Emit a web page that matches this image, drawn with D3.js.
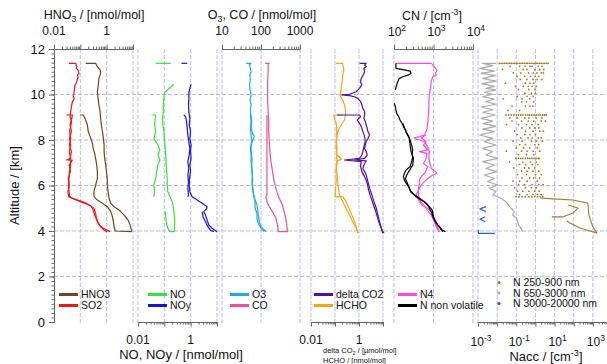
<!DOCTYPE html>
<html>
<head>
<meta charset="utf-8">
<script src="https://cdn.jsdelivr.net/npm/d3@7"></script>
<style>
  body { margin: 0; background: #fff; }
  svg { font-family: Arial, "Liberation Sans", sans-serif; }
</style>
</head>
<body>
<div id="chart"></div>
<script>
// profiles: [altitude km, value]
const so2A = [[11.37,0.037],[11.37,0.067],[11.22,0.073],[11.15,0.070],[11.08,0.082],[10.93,0.089],[10.85,0.078],[10.78,0.082],[10.56,0.073],[10.45,0.066],[10.34,0.061],[10.12,0.058],[9.90,0.054],[9.80,0.058],[9.69,0.050],[9.47,0.046],[9.25,0.043],[9.03,0.041],[8.81,0.046],[8.59,0.043],[8.37,0.039],[8.07,0.043],[7.78,0.039],[7.49,0.046],[7.19,0.041],[6.90,0.043],[6.61,0.039],[6.31,0.037],[6.02,0.036],[5.73,0.037],[5.51,0.039],[5.44,0.050],[5.29,0.10],[5.14,0.21],[5.00,0.33],[4.78,0.38],[4.56,0.41],[4.34,0.47],[4.19,0.59],[4.04,0.80],[3.97,1.06]];
const so2B = [[9.10,0.030],[9.10,0.050],[8.88,0.046],[8.66,0.041],[8.37,0.046],[8.07,0.039],[7.78,0.043],[7.49,0.038],[7.19,0.043],[7.12,0.030],[7.12,0.050],[6.90,0.038],[6.61,0.042],[6.31,0.035],[6.02,0.038],[5.73,0.034],[5.51,0.036],[5.41,0.058],[5.26,0.14],[5.11,0.25],[4.92,0.31],[4.70,0.35],[4.48,0.42],[4.26,0.54],[4.12,0.75],[3.97,1.35]];
const hno3A = [[11.37,0.16],[11.37,0.38],[11.22,0.445],[11.08,0.56],[10.93,0.59],[10.71,0.51],[10.42,0.48],[10.12,0.445],[9.83,0.47],[9.54,0.51],[9.25,0.56],[8.95,0.59],[8.66,0.63],[8.37,0.69],[8.07,0.75],[7.78,0.80],[7.49,0.80],[7.19,0.84],[6.90,0.92],[6.61,0.98],[6.31,1.06],[6.02,1.06],[5.73,1.13],[5.44,1.23],[5.22,1.43],[5.07,1.91],[4.92,2.96],[4.70,4.59],[4.48,6.5],[4.26,7.8],[4.04,8.7],[3.97,8.7]];
const hno3B = [[9.10,0.10],[9.10,0.13],[8.88,0.16],[8.66,0.185],[8.37,0.20],[8.07,0.25],[7.85,0.287],[7.63,0.31],[7.41,0.35],[7.19,0.38],[6.90,0.42],[6.61,0.445],[6.31,0.445],[6.02,0.38],[5.73,0.33],[5.51,0.33],[5.36,0.445],[5.22,0.69],[5.07,1.06],[4.85,1.43],[4.63,1.65],[4.41,1.80],[4.19,1.91],[4.00,2.09],[3.97,8.7]];
const noTop = [[11.37,0.047],[11.37,0.173]];
const noA = [[10.45,0.231],[10.34,0.183],[10.20,0.129],[10.05,0.10],[9.83,0.097],[9.54,0.091],[9.25,0.091],[8.95,0.086],[8.66,0.088],[8.37,0.097],[8.07,0.10],[7.78,0.105],[7.49,0.112],[7.19,0.115],[6.90,0.118],[6.61,0.122],[6.31,0.129],[6.02,0.129],[5.73,0.136],[5.44,0.173],[5.29,0.20],[5.07,0.218],[4.85,0.231],[4.56,0.245],[4.26,0.245],[4.00,0.245],[3.97,0.231],[3.97,0.163],[4.12,0.136],[4.41,0.118],[4.63,0.112],[4.85,0.108]];
const noB = [[9.10,0.035],[9.10,0.047],[8.88,0.044],[8.66,0.043],[8.37,0.047],[8.07,0.040],[7.78,0.057],[7.56,0.068],[7.34,0.057],[7.12,0.068],[6.90,0.057],[6.61,0.051],[6.31,0.047],[6.02,0.040],[5.73,0.043],[5.51,0.040]];
const noyTop = [[11.37,0.45],[11.37,0.74]];
const noyA = [[10.45,1.04],[10.27,0.93],[10.05,0.85],[9.83,0.85],[9.54,0.83],[9.25,0.85],[8.95,0.93],[8.66,0.88],[8.37,0.99],[8.07,0.93],[7.78,1.04],[7.49,0.99],[7.19,1.04],[6.90,0.93],[6.61,0.99],[6.31,0.90],[6.02,0.88],[5.73,0.93],[5.51,1.14],[5.36,1.77],[5.22,2.73],[5.07,4.23],[4.97,3.98],[4.85,3.16],[4.70,3.66],[4.48,4.23],[4.26,4.89],[4.12,6.5],[3.97,10.0]];
const noyB = [[9.10,0.55],[9.03,0.64],[8.81,0.70],[8.51,0.74],[8.22,0.78],[7.93,0.85],[7.63,0.93],[7.34,0.88],[7.05,0.78],[6.75,0.85],[6.46,0.78],[6.17,0.83],[5.88,0.78],[5.58,0.83],[5.51,0.78]];
const noyC = [[4.85,2.73],[4.63,2.97],[4.41,3.66],[4.19,4.5],[4.04,5.6],[3.97,7.6]];
const o3A = [[11.37,41.6],[11.37,55.7],[11.30,50.5],[11.15,53.5],[11.00,55.7],[10.86,51.5],[10.64,53.5],[10.42,50.5],[10.20,52.5],[9.98,55.7],[9.76,52.5],[9.54,55.7],[9.32,53.5],[9.03,55.7],[8.81,58],[8.51,55.7],[8.29,61],[8.15,67.6],[8.00,61],[7.78,55.7],[7.49,55.7],[7.19,59],[6.90,58],[6.61,59],[6.31,61],[6.02,60],[5.73,62.5],[5.44,67.6],[5.14,79],[4.92,82],[4.70,85],[4.41,90.8],[4.19,100],[3.97,134]];
const o3B = [[9.10,53.5],[8.81,55.7],[8.51,53.5],[8.22,55.7],[7.93,58],[7.63,53.5],[7.34,55.7],[7.05,55.7],[6.75,58],[6.46,60],[6.17,59],[5.88,61],[5.58,65],[5.29,70.4],[5.00,70.4],[4.78,79],[4.56,79],[4.34,85],[4.12,100],[3.97,121]];
const coA = [[11.37,129],[11.37,163],[11.37,153],[11.00,153],[10.56,148],[10.12,148],[9.69,148],[9.25,153],[8.81,157],[8.37,157],[7.93,163],[7.49,169],[7.05,180],[6.61,198],[6.17,218],[5.73,255],[5.44,293],[5.14,356],[4.85,392],[4.56,432],[4.26,458],[3.97,476],[3.97,276]];
const coB = [[9.10,142],[8.66,142],[8.22,142],[7.78,142],[7.34,142],[6.90,142],[6.46,142],[6.02,142],[5.58,142],[5.51,134],[5.29,142],[5.07,163],[4.85,198],[4.56,241],[4.26,265],[3.97,276]];
const hchoA = [[11.37,0.111],[11.37,0.211],[11.30,0.211],[11.08,0.233],[10.86,0.211],[10.56,0.198],[10.27,0.18],[10.05,0.169],[9.90,0.169],[9.76,0.211],[9.54,0.248],[9.32,0.274],[9.10,0.274],[8.88,0.248],[8.66,0.18],[8.44,0.139],[8.22,0.122],[7.93,0.115],[7.63,0.122],[7.34,0.115],[7.05,0.122],[6.75,0.115],[6.46,0.122],[6.17,0.130],[5.88,0.139],[5.58,0.153],[5.29,0.211],[5.00,0.29],[4.70,0.40],[4.41,0.55],[4.12,0.76],[3.90,0.95]];
const hchoB = [[9.10,0.211],[9.10,0.089],[8.95,0.095],[8.73,0.111],[8.51,0.119],[8.22,0.115],[7.93,0.111],[7.63,0.111],[7.34,0.119],[7.16,0.19],[7.08,0.122],[6.75,0.111],[6.46,0.111],[6.17,0.111],[5.88,0.107],[5.51,0.101],[5.51,0.211],[5.29,0.29],[5.00,0.38],[4.70,0.50],[4.41,0.65],[4.12,0.79],[3.90,0.89]];
const co2A = [[11.37,1.05],[11.37,2.0],[11.30,1.71],[11.22,2.0],[11.15,1.60],[11.00,1.71],[10.86,1.50],[10.71,1.24],[10.56,1.16],[10.42,1.32],[10.27,1.05],[10.12,0.76],[10.01,0.40],[9.98,0.19],[9.95,0.40],[9.90,0.65],[9.83,0.89],[9.69,1.16],[9.54,1.32],[9.39,1.45],[9.25,1.71],[9.10,1.71],[8.95,1.60],[8.81,1.82],[8.66,2.0],[8.51,2.2],[8.37,2.35],[8.22,2.76],[8.07,2.35],[7.93,2.0],[7.78,1.82],[7.63,1.71],[7.49,2.0],[7.34,2.2],[7.19,1.71],[7.12,0.65],[7.08,2.0],[6.90,1.60],[6.75,1.45],[6.61,1.71],[6.46,2.0],[6.17,2.35],[5.88,2.76],[5.58,3.45],[5.29,4.19],[5.00,5.25],[4.70,6.15],[4.41,7.23],[4.12,8.49],[3.90,9.97]];
const co2B = [[9.10,0.122],[9.10,1.05],[9.03,1.16],[8.88,0.84],[8.73,1.05],[8.59,1.24],[8.37,1.45],[8.15,1.71],[7.93,1.82],[7.71,1.60],[7.49,1.45],[7.34,1.32],[7.19,1.05],[7.12,0.248],[7.05,1.24],[6.83,1.16],[6.61,1.32],[6.39,1.71],[6.10,2.20],[5.80,2.51],[5.51,3.02],[5.22,3.80],[4.92,4.77],[4.63,5.76],[4.34,7.0],[4.04,9.06],[3.90,11.0]];
const n4A = [[11.37,112],[11.37,873],[11.30,961],[11.15,1124],[11.08,1216],[11.00,1169],[10.93,1124],[10.86,1169],[10.78,961],[10.71,925],[10.56,873],[10.27,839],[9.98,791],[9.69,761],[9.39,761],[9.10,746],[8.81,718],[8.51,690],[8.37,651],[8.22,590],[8.15,441],[8.10,329],[8.04,362],[8.00,441],[7.93,590],[7.78,677],[7.63,731],[7.49,791],[7.34,761],[7.05,791],[6.75,873],[6.61,1124],[6.53,1216],[6.46,961],[6.31,718],[6.17,590],[6.02,486],[5.88,441],[5.73,400],[5.58,362],[5.44,400],[5.29,441],[5.14,515],[5.00,718],[4.85,873],[4.70,961],[4.56,1059],[4.41,1169],[4.26,1216],[4.12,1290],[3.97,1421]];
const n4B = [[8.22,651],[8.10,486],[7.93,651],[7.78,557],[7.56,718],[7.49,441],[7.41,677],[7.19,651],[6.97,557],[6.83,718],[6.68,651],[6.53,590],[6.39,486],[6.24,441],[6.10,441],[5.88,415],[5.58,415],[5.29,469],[5.00,651],[4.70,873],[4.41,1059],[4.12,1216],[3.97,1367]];
const nnvA = [[11.37,112],[11.15,112],[11.08,183],[11.03,255],[10.93,270],[10.86,236],[10.78,166],[10.71,137],[10.56,124],[10.42,117],[10.20,108]];
const nnvB = [[9.61,102],[9.47,108],[9.32,112],[9.17,117],[9.03,131],[8.88,142],[8.73,160],[8.59,173],[8.44,194],[8.29,210],[8.15,236],[8.00,255],[7.85,270],[7.71,287],[7.56,298],[7.41,287],[7.27,298],[7.12,287],[6.97,270],[6.83,255],[6.68,202],[6.53,183],[6.39,173],[6.24,183],[6.10,202],[5.95,236],[5.80,255],[5.66,298],[5.51,362],[5.36,486],[5.22,651],[5.07,791],[4.92,925],[4.78,961],[4.63,1000],[4.48,1059],[4.34,1169],[4.19,1421],[4.04,1660],[3.97,2018]];
const nnvC = [[8.73,166],[8.37,202],[8.07,245],[7.78,255],[7.49,270],[7.19,310],[6.90,298],[6.61,236],[6.46,210],[6.31,194],[6.17,210],[6.02,227],[5.88,245],[5.70,270],[5.58,329],[5.44,441],[5.29,590],[5.07,761],[4.85,873],[4.63,961],[4.41,1124],[4.19,1367],[3.97,1726]];
const n650 = [[11.37,0.0087],[11.37,0.00175],[11.27,0.00582],[11.15,0.00127],[11.03,0.0071],[10.93,0.00144],[10.83,0.0080],[10.71,0.00175],[10.59,0.0087],[10.48,0.00162],[10.36,0.0071],[10.27,0.00261],[10.20,0.0087],[10.10,0.00214],[10.01,0.00582],[9.90,0.00175],[9.80,0.0071],[9.69,0.00261],[9.57,0.0087],[9.45,0.00144],[9.33,0.0063],[9.22,0.00175],[9.10,0.0080],[8.95,0.00144],[8.83,0.00582],[8.72,0.00190],[8.60,0.0087],[8.48,0.00175],[8.37,0.0071],[8.22,0.00127],[8.07,0.00582],[7.93,0.00214],[7.78,0.0087],[7.63,0.00175],[7.49,0.00582],[7.34,0.00261],[7.19,0.0106],[7.05,0.00175],[6.90,0.0071],[6.75,0.00261],[6.61,0.0094],[6.46,0.00214],[6.31,0.0071],[6.17,0.0032],[6.02,0.0106],[5.88,0.0039],[5.73,0.0087],[5.58,0.00582],[5.44,0.0159],[5.29,0.0289],[5.14,0.0398],[5.00,0.0527],[4.85,0.0786],[4.70,0.0644],[4.56,0.103],[4.41,0.117],[4.26,0.133],[4.12,0.175],[3.97,0.214]];
const n3000 = [
  [[5.07,0.0026],[4.97,0.00127],[4.85,0.0026]],
  [[4.63,0.0024],[4.52,0.00127],[4.41,0.0024]],
  [[4.04,0.00105],[3.90,0.00105],[3.90,0.0075]]
];
// N 250-900 nm: levels and the dots read at each level
const nAccLevels = [11.37,11.24,11.10,10.95,10.80,10.66,10.50,10.36,10.22,10.06,9.92,9.81,9.68,9.49,9.30,9.10,8.97,8.83,8.68,8.53,8.39,8.24,8.09,7.95,7.80,7.65,7.51,7.36,7.19,7.03,6.92,6.77,6.63,6.48,6.33,6.19,6.04,5.90,5.75,5.60,5.51];
const nAccValues = [
  [0.013,0.016,0.02,0.025,0.03,0.037,0.045,0.055,0.068,0.083,0.1,0.12,0.15,0.18,0.22,0.27,0.33,0.4,0.5,0.6,0.75,0.9,1.1,1.35,1.65,2.0,2.5,3.0,3.7,4.5],
  [0.047,0.15,0.29,0.52,0.66,1.4,2.2],
  [0.019,0.23,0.36,0.93,1.7,2.7],
  [0.07,0.17,0.44,0.78,1.2,2.0,2.6],
  [0.11,0.28,0.55,1.0,1.5],
  [0.16,0.36,0.75,1.25,2.1],
  [0.027,0.3,0.52,0.82],
  [0.09,0.23,0.42,0.68,1.12],
  [0.13,0.45,0.95],
  [0.28,0.62,1.0],
  [0.11,0.37,0.76],
  [0.021,0.2,0.5],
  [0.19,0.34,0.8],
  [0.06,0.3,0.52,0.74],
  [0.037,0.15],
  [0.029,0.04,0.055,0.075,0.1,0.13,0.17,0.22,0.3,0.4,0.5,0.65,0.85,1.1,1.4,1.8,2.4,3.0,3.6],
  [0.046,0.11,0.28,0.45,1.1,2.2],
  [0.06,0.19,0.42,0.8,2.0,3.3],
  [0.031,0.13,0.34,0.66,1.4],
  [0.2,0.51,0.92,1.5],
  [0.082,0.3,0.75,1.7,2.6],
  [0.11,0.28,0.52,1.0],
  [0.17,0.41,0.68,1.4,2.0],
  [0.068,0.2,0.62,1.1,2.3],
  [0.15,0.3,0.92,1.5],
  [0.1,0.24,0.5,1.25],
  [0.03,0.19,0.37,0.76,1.7],
  [0.13,0.34,0.82],
  [0.096,0.13,0.17,0.22,0.3,0.4,0.5,0.65,0.85,1.1,1.4,1.6],
  [0.045,0.22,0.55,1.1],
  [0.15,0.3,0.68,1.35],
  [0.074,0.27,0.46,0.9],
  [0.19,0.37,0.74,1.5],
  [0.115,0.34,1.0,2.0],
  [0.2,0.5,0.82,1.65],
  [0.068,0.15,0.37,1.25],
  [0.13,0.27,0.68,1.5,2.5],
  [0.082,0.3,0.62,1.1],
  [0.115,0.22,0.46,0.92,1.55],
  [0.15,0.37,0.74,1.25,2.0],
  [0.096,0.14,0.2,0.3,0.45,0.65,0.9,1.3,1.8,2.4]
];
// lower part of N 250-900 nm (dense dots, drawn as trace)
const nAccLow = [
  [[5.45,1.71],[5.41,8.2],[5.36,90],[5.23,547],[4.70,617],[4.18,1000],[3.91,1614],[4.13,210],[4.35,63],[4.44,44]],
  [[5.14,51],[5.01,164],[4.79,90],[4.62,27],[4.62,7.2]]
];

// tick labels
const altTicks = [0, 2, 4, 6, 8, 10, 12];
const nmolTicks = [0.01, 1];
const o3Ticks = [10, 100, 1000];
const cnExp = [2, 3, 4];
const naccExp = [-3, -1, 1, 3];

const width = 607, height = 364;
const gridColor = "#b3b3dc";
const axisColor = "#666";

const svg = d3.select("#chart").append("svg")
  .attr("width", width).attr("height", height);

const y = d3.scaleLinear().domain([0, 12]).range([322, 49]);

const panels = [
  {x: d3.scaleLog().domain([0.01, 10]).range([54, 133]), side: "top"},
  {x: d3.scaleLog().domain([0.01, 10]).range([138, 217]), side: "bottom"},
  {x: d3.scaleLog().domain([10, 1000]).range([222, 300]), side: "top"},
  {x: d3.scaleLog().domain([0.01, 10]).range([311, 383]), side: "bottom"},
  {x: d3.scaleLog().domain([100, 10000]).range([394, 473]), side: "top"},
  {x: d3.scaleLog().domain([0.001, 10000]).range([478, 612]), side: "bottom"}
];

function decades(x) {
  const [a, b] = x.domain();
  const out = [];
  for (let e = Math.round(Math.log10(a)); e <= Math.round(Math.log10(b)); e++) out.push(Math.pow(10, e));
  return out;
}
function minors(x) {
  const [a, b] = x.domain();
  const out = [];
  for (let e = Math.round(Math.log10(a)); e < Math.round(Math.log10(b)); e++)
    for (let m = 2; m < 10; m++) out.push(m * Math.pow(10, e));
  return out;
}

// grid
const grid = svg.append("g").attr("stroke", gridColor).attr("stroke-dasharray", "4,2").attr("stroke-width", 0.9);
[2, 4, 6, 8, 10].forEach(v => {
  grid.append("line").attr("x1", 54).attr("x2", width).attr("y1", y(v)).attr("y2", y(v));
});
panels.forEach(p => {
  decades(p.x).forEach(v => {
    const xx = p.x(v);
    if (xx < 56 || xx > width) return;
    grid.append("line").attr("x1", xx).attr("x2", xx).attr("y1", y(12)).attr("y2", y(0) + 1);
  });
});

// log axes for each panel
panels.forEach(p => {
  const pos = p.side === "top" ? y(12) : y(0);
  const mk = p.side === "top" ? d3.axisTop : d3.axisBottom;
  const g = svg.append("g").attr("transform", `translate(0,${pos})`);
  g.append("g").call(mk(p.x).tickValues(minors(p.x)).tickSize(2.5).tickSizeOuter(0).tickFormat(""));
  g.append("g").call(mk(p.x).tickValues(decades(p.x)).tickSize(4.5).tickSizeOuter(0).tickFormat(""));
  g.selectAll("path, line").attr("stroke", axisColor);
  g.selectAll("text").remove();
});

// left altitude axis
const ya = svg.append("g").attr("transform", "translate(54,0)");
ya.append("g").call(d3.axisLeft(y).tickValues(d3.range(0, 12.01, 0.2)).tickSize(2.5).tickFormat(""));
ya.append("g").call(d3.axisLeft(y).tickValues(altTicks).tickSize(5).tickFormat(""));
ya.selectAll("path, line").attr("stroke", axisColor);
ya.selectAll("text").remove();
ya.selectAll("text.alt").data(altTicks).join("text").attr("class", "alt")
  .attr("x", -9).attr("y", d => y(d) + 4.5)
  .attr("text-anchor", "end").attr("font-size", 13).attr("fill", "#111")
  .text(d => d);

svg.append("text").attr("transform", `translate(19,${y(6)}) rotate(-90)`)
  .attr("text-anchor", "middle").attr("font-size", 13).attr("fill", "#111")
  .text("Altitude / [km]");

// tick labels
function plainLabels(p, ticks, base) {
  svg.append("g").selectAll("text").data(ticks).join("text")
    .attr("x", d => p.x(d)).attr("y", base)
    .attr("text-anchor", "middle").attr("font-size", 12).attr("fill", "#111")
    .text(d => d);
}
function expLabels(p, exps, base) {
  const t = svg.append("g").selectAll("text").data(exps).join("text")
    .attr("x", d => p.x(Math.pow(10, d)) + 3).attr("y", base)
    .attr("text-anchor", "middle").attr("font-size", 12).attr("fill", "#111");
  t.append("tspan").text("10");
  t.append("tspan").attr("dy", -5).attr("font-size", 8.5).text(d => d);
}
plainLabels(panels[0], nmolTicks, 35);
plainLabels(panels[1], nmolTicks, 344);
plainLabels(panels[2], o3Ticks, 35);
plainLabels(panels[3], nmolTicks, 344);
expLabels(panels[4], cnExp, 36);
expLabels(panels[5], naccExp, 346);

// axis titles: parts are strings or {t, dy} for sub/superscripts
function title(xc, base, size, parts) {
  const t = svg.append("text").attr("x", xc).attr("y", base).attr("text-anchor", "middle")
    .attr("font-size", size).attr("fill", "#111");
  let shift = 0;
  parts.forEach(s => {
    if (typeof s === "string") {
      t.append("tspan").attr("dy", -shift).text(s);
      shift = 0;
    } else {
      t.append("tspan").attr("dy", s.dy).attr("font-size", size * 0.7).text(s.t);
      shift = s.dy;
    }
  });
}
title(94, 19, 12.5, ["HNO", {t: "3", dy: 3}, " / [nmol/mol]"]);
title(262, 18.5, 12.5, ["O", {t: "3", dy: 3}, ", CO / [nmol/mol]"]);
title(432, 20, 12.5, ["CN / [cm", {t: "-3", dy: -5}, "]"]);
title(181, 359, 13, ["NO, NOy / [nmol/mol]"]);
title(546, 361, 13, ["Nacc / [cm", {t: "-3", dy: -5}, "]"]);
const small = svg.append("g").attr("font-size", 7.5).attr("fill", "#111");
const l1 = small.append("text").attr("x", 323).attr("y", 353);
l1.append("tspan").text("delta CO");
l1.append("tspan").attr("dy", 2).attr("font-size", 5.5).text("2");
l1.append("tspan").attr("dy", -2).text(" / [\u00b5mol/mol]");
small.append("text").attr("x", 323).attr("y", 363).text("HCHO / [nmol/mol]");

// profiles
function draw(p, data, color, w) {
  const line = d3.line().x(d => p.x(d[1])).y(d => y(d[0]));
  svg.append("path").datum(data).attr("d", line)
    .attr("fill", "none").attr("stroke", color).attr("stroke-width", w || 1.2)
    .attr("stroke-linejoin", "round");
}
const c = {
  hno3: "#6a4a1a", so2: "#ee1515", no: "#36e336", noy: "#1616d2",
  o3: "#1ea8ea", co: "#ec5097", co2: "#560e9c", hcho: "#f5a81c",
  n4: "#ff48dc", nnv: "#000000", n250: "#a07a28", n650: "#aaaaaa", n3000: "#1f5fe0"
};
[so2A, so2B].forEach(d => draw(panels[0], d, c.so2));
[hno3A, hno3B].forEach(d => draw(panels[0], d, c.hno3));
[noTop, noA, noB].forEach(d => draw(panels[1], d, c.no));
[noyTop, noyA, noyB, noyC].forEach(d => draw(panels[1], d, c.noy));
[o3A, o3B].forEach(d => draw(panels[2], d, c.o3));
[coA, coB].forEach(d => draw(panels[2], d, c.co));
[hchoA, hchoB].forEach(d => draw(panels[3], d, c.hcho));
[co2A, co2B].forEach(d => draw(panels[3], d, c.co2));
[n4A, n4B].forEach(d => draw(panels[4], d, c.n4));
[nnvA, nnvB, nnvC].forEach(d => draw(panels[4], d, c.nnv));
draw(panels[5], n650, c.n650);
n3000.forEach(d => draw(panels[5], d, c.n3000));
nAccLow.forEach(d => draw(panels[5], d, c.n250, 1.1));

const dots = [];
nAccLevels.forEach((a, i) => nAccValues[i].forEach(v => dots.push([a, v])));
svg.append("g").selectAll("circle").data(dots).join("circle")
  .attr("cx", d => panels[5].x(d[1])).attr("cy", d => y(d[0]))
  .attr("r", 0.9).attr("fill", c.n250);

// legends
const lineLegends = [
  {x: 59, names: ["HNO3", "SO2"], colors: [c.hno3, c.so2]},
  {x: 148, names: ["NO", "NOy"], colors: [c.no, c.noy]},
  {x: 230, names: ["O3", "CO"], colors: [c.o3, c.co]},
  {x: 314, names: ["delta CO2", "HCHO"], colors: [c.co2, c.hcho]},
  {x: 398, names: ["N4", "N non volatile"], colors: [c.n4, c.nnv]}
];
lineLegends.forEach(L => {
  L.names.forEach((n, i) => {
    const yy = 294.5 + i * 11;
    svg.append("line").attr("x1", L.x).attr("x2", L.x + 19).attr("y1", yy).attr("y2", yy)
      .attr("stroke", L.colors[i]).attr("stroke-width", 3);
    svg.append("text").attr("x", L.x + 22).attr("y", yy + 3.5).attr("font-size", 10.5)
      .attr("fill", "#111").text(n);
  });
});
const dotNames = ["N 250-900 nm", "N 650-3000 nm", "N 3000-20000 nm"];
const dotColors = [c.n250, c.n650, c.n3000];
dotNames.forEach((n, i) => {
  const yy = 282.5 + i * 10.5;
  svg.append("circle").attr("cx", 499).attr("cy", yy).attr("r", 1.6).attr("fill", dotColors[i]);
  svg.append("text").attr("x", 513).attr("y", yy + 3.5).attr("font-size", 10.5)
    .attr("fill", "#111").text(n);
});
</script>
</body>
</html>
